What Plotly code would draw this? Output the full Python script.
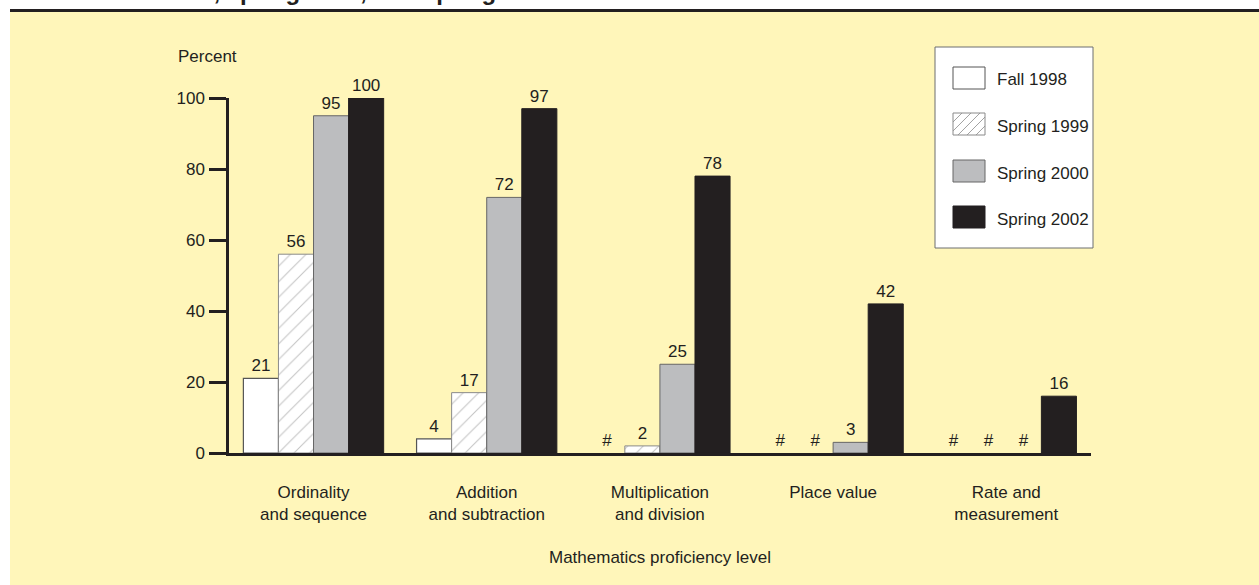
import plotly.graph_objects as go

W, H = 1259, 585

# ---- data -------------------------------------------------------------
categories = [
    "Ordinality<br>and sequence",
    "Addition<br>and subtraction",
    "Multiplication<br>and division",
    "Place value",
    "Rate and<br>measurement",
]
series_names = ["Fall 1998", "Spring 1999", "Spring 2000", "Spring 2002"]
# None = rounds to zero (shown as "#")
fall_1998 = [21, 4, None, None, None]
spring_1999 = [56, 17, 2, None, None]
spring_2000 = [95, 72, 25, 3, None]
spring_2002 = [100, 97, 78, 42, 16]
y_ticks = [0, 20, 40, 60, 80, 100]

title_tail = "1999, spring 2000, and spring 2002"
y_label = "Percent"
x_label = "Mathematics proficiency level"

# ---- styling -----------------------------------------------------------
INK = "#231F20"
PANEL = "#FFF6BA"
FONT = "Liberation Sans, Arial, sans-serif"
FS = 17

styles = [
    dict(color="white", line=dict(color="#555555", width=1.2)),
    dict(color="white", line=dict(color="#8a8a8a", width=1),
         pattern=dict(shape="/", fgcolor="#8a8a8a", bgcolor="white", size=11, solidity=0.1)),
    dict(color="#BCBDBF", line=dict(color="#666666", width=1)),
    dict(color=INK, line=dict(color=INK, width=1)),
]


def fx(px):
    return px / W


def fy(py):
    return 1 - py / H


fig = go.Figure()
for name, vals, st in zip(series_names, [fall_1998, spring_1999, spring_2000, spring_2002], styles):
    marker = dict(st)
    # no outline on bars that round to zero
    marker["line"] = dict(color=st["line"]["color"],
                          width=[0 if v is None else st["line"]["width"] for v in vals])
    fig.add_trace(go.Bar(
        x=categories,
        y=[0 if v is None else v for v in vals],
        text=["#" if v is None else str(v) for v in vals],
        textposition="outside",
        textfont=dict(family=FONT, size=FS, color=INK),
        constraintext="none",
        cliponaxis=False,
        marker=marker,
        name=name,
        hoverinfo="skip",
    ))

shapes = [
    # panel background and top rule
    dict(type="rect", xref="paper", yref="paper", x0=fx(10), x1=1, y0=0, y1=fy(12),
         fillcolor=PANEL, line=dict(width=0), layer="below"),
    dict(type="line", xref="paper", yref="paper", x0=fx(10), x1=1, y0=fy(10.6), y1=fy(10.6),
         line=dict(color=INK, width=3), layer="below"),
    # legend frame
    dict(type="rect", xref="paper", yref="paper", x0=fx(935), x1=fx(1093), y0=fy(248), y1=fy(47),
         fillcolor="white", line=dict(color="#6d6e70", width=1)),
]

annotations = [
    dict(text=f"<b>{title_tail}</b>", xref="paper", yref="paper", x=fx(158), y=fy(7.5),
         xanchor="left", yanchor="bottom", showarrow=False,
         font=dict(family=FONT, size=24, color=INK)),
    dict(text=y_label, xref="paper", yref="paper", x=fx(176), y=fy(57),
         xanchor="left", yanchor="middle", showarrow=False,
         font=dict(family=FONT, size=FS, color=INK)),
    dict(text=x_label, xref="paper", yref="paper", x=fx(660), y=fy(557),
         xanchor="center", yanchor="middle", showarrow=False,
         font=dict(family=FONT, size=FS, color=INK)),
]

# legend swatches and labels
sw_x0, sw_x1 = 953, 985
row_tops = [67, 113, 160, 206]
sw_h = 22
for i, (name, st) in enumerate(zip(series_names, styles)):
    top = row_tops[i]
    bot = top + sw_h
    shapes.append(dict(type="rect", xref="paper", yref="paper",
                       x0=fx(sw_x0), x1=fx(sw_x1), y0=fy(bot), y1=fy(top),
                       fillcolor=st["color"], line=dict(color=st["line"]["color"], width=1)))
    if "pattern" in st:
        # diagonal hatching clipped to the swatch
        step = 9
        segs = []
        c = sw_x0 - sw_h
        while c < sw_x1:
            t0 = max(0.0, (sw_x0 - c) / sw_h)
            t1 = min(1.0, (sw_x1 - c) / sw_h)
            if t1 > t0:
                xa, ya = c + t0 * sw_h, bot - t0 * sw_h
                xb, yb = c + t1 * sw_h, bot - t1 * sw_h
                segs.append(f"M{fx(xa):.5f},{fy(ya):.5f}L{fx(xb):.5f},{fy(yb):.5f}")
            c += step
        shapes.append(dict(type="path", xref="paper", yref="paper", path="".join(segs),
                           line=dict(color="#8a8a8a", width=0.8)))
    annotations.append(dict(text=name, xref="paper", yref="paper", x=fx(995), y=fy(top + sw_h / 2 + 2),
                            xanchor="left", yanchor="middle", showarrow=False,
                            font=dict(family=FONT, size=FS, color=INK)))

fig.update_layout(
    width=W, height=H,
    autosize=False,
    margin=dict(l=0, r=0, t=0, b=0, pad=0, autoexpand=False),
    paper_bgcolor="white",
    plot_bgcolor="rgba(0,0,0,0)",
    showlegend=False,
    barmode="group",
    bargap=0.19,
    bargroupgap=0,
    font=dict(family=FONT, size=FS, color=INK),
    shapes=shapes,
    annotations=annotations,
    xaxis=dict(
        domain=[fx(229), fx(1091)],
        range=[-0.488, 4.489],
        automargin=False,
        showline=True, linecolor=INK, linewidth=2.5,
        ticks="", showgrid=False, zeroline=False,
        tickfont=dict(family=FONT, size=FS, color=INK),
        ticklabelstandoff=22,
    ),
    yaxis=dict(
        domain=[fy(453), fy(98)],
        range=[0, 100],
        automargin=False,
        tickvals=y_ticks,
        showline=True, linecolor=INK, linewidth=2.5,
        ticks="outside", ticklen=17, tickwidth=2.5, tickcolor=INK,
        showgrid=False, zeroline=False,
        tickfont=dict(family=FONT, size=FS, color=INK),
        ticklabelstandoff=1,
    ),
)

fig.write_html("out.html")
